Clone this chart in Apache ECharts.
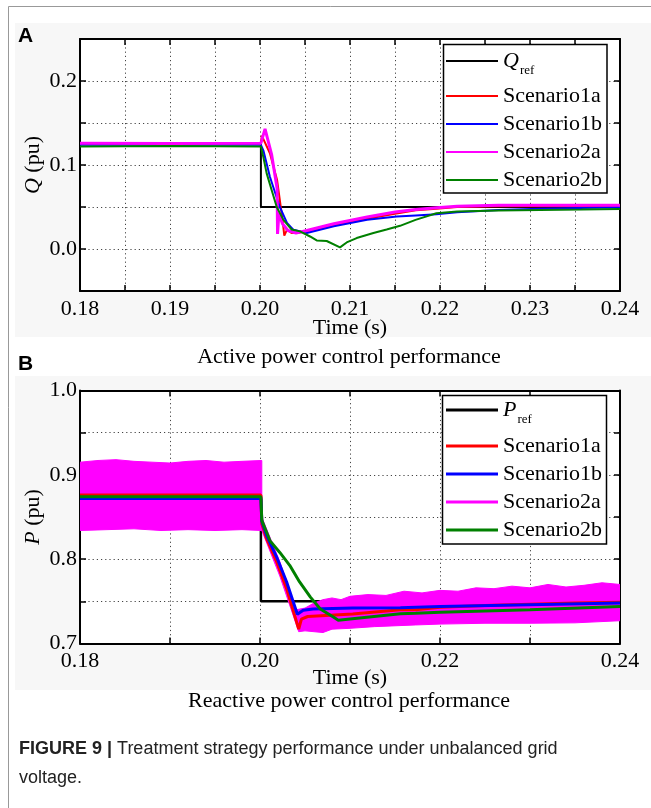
<!DOCTYPE html>
<html><head><meta charset="utf-8">
<script src="https://cdn.jsdelivr.net/npm/echarts@6/dist/echarts.min.js"></script>
<style>html,body{margin:0;padding:0;background:#fff;}#c{width:651px;height:808px;}</style>
</head><body><div id="c"></div>
<script>
// ---------- tick labels ----------
const xTickLabelsA = ['0.18','0.19','0.20','0.21','0.22','0.23','0.24'];
const yTickLabelsA = ['0.0','0.1','0.2'];
const xTickLabelsB = ['0.18','0.20','0.22','0.24'];
const yTickLabelsB = ['0.7','0.8','0.9','1.0'];

// ---------- Panel A : Q (pu) vs time (s) ----------
const qRef = [[0.18,0.125],[0.2001,0.125],[0.2001,0.05],[0.24,0.05]];
const q1a = [[0.18,0.125],[0.19,0.1252],[0.2001,0.125],[0.2002,0.135],[0.2011,0.114],[0.2019,0.082],
  [0.2025,0.035],[0.2027,0.016],[0.2030,0.023],[0.2035,0.019],[0.2041,0.019],[0.2052,0.021],
  [0.2082,0.028],[0.2119,0.036],[0.215,0.042],[0.2173,0.046],[0.2196,0.048],[0.2219,0.050],
  [0.2265,0.051],[0.231,0.051],[0.2357,0.051],[0.24,0.051]];
const q1b = [[0.18,0.124],[0.19,0.1242],[0.2001,0.124],[0.20037,0.1175],[0.2011,0.086],[0.2022,0.050],
  [0.2030,0.031],[0.2037,0.023],[0.2052,0.019],[0.2082,0.027],[0.2119,0.0347],[0.2152,0.0386],
  [0.2173,0.040],[0.2196,0.0414],[0.2219,0.0438],[0.2265,0.0465],[0.2311,0.048],[0.24,0.0497]];
const q2a = [[0.18,0.126],[0.19,0.1255],[0.2001,0.126],[0.20056,0.143],[0.2013,0.112],[0.2019,0.072],
  [0.20195,0.018],[0.2021,0.042],[0.2025,0.030],[0.2031,0.022],[0.2040,0.019],[0.2052,0.022],
  [0.2082,0.030],[0.2119,0.038],[0.215,0.044],[0.2173,0.047],[0.2196,0.049],[0.2219,0.051],
  [0.2265,0.052],[0.231,0.052],[0.2357,0.052],[0.24,0.052]];
const q2b = [[0.18,0.122],[0.19,0.1225],[0.2001,0.122],[0.20037,0.1096],[0.20074,0.090],[0.2013,0.070],
  [0.20186,0.050],[0.2026,0.0347],[0.20352,0.0232],[0.20444,0.021],[0.20556,0.0149],[0.2063,0.0102],
  [0.20741,0.0095],[0.20889,0.0019],[0.20963,0.0078],[0.21074,0.013],[0.2126,0.019],[0.21407,0.0232],
  [0.21556,0.0276],[0.21728,0.0347],[0.2196,0.0426],[0.2219,0.0446],[0.2242,0.0453],[0.2265,0.0457],
  [0.2311,0.0465],[0.2357,0.047],[0.24,0.0477]];

// ---------- Panel B : P (pu) vs time (s) ----------
const pRef = [[0.18,0.875],[0.2001,0.875],[0.2001,0.75],[0.24,0.75]];
const p1a = [[0.18,0.876],[0.2001,0.876],[0.2002,0.842],[0.20074,0.824],[0.20185,0.797],[0.20296,0.765],
  [0.2043,0.717],[0.2046,0.729],[0.2053,0.732],[0.2103,0.735],[0.2156,0.740],[0.2173,0.740],
  [0.22,0.743],[0.225,0.745],[0.23,0.7465],[0.235,0.748],[0.24,0.749]];
const p1b = [[0.18,0.872],[0.2001,0.872],[0.2002,0.845],[0.20074,0.828],[0.20185,0.8025],[0.20296,0.773],
  [0.20415,0.7346],[0.2048,0.7393],[0.2059,0.741],[0.2103,0.742],[0.2156,0.7425],[0.22,0.744],
  [0.23,0.746],[0.24,0.748]];
const p2aUpper = [[0.18,0.915],[0.182,0.917],[0.184,0.918],[0.186,0.916],[0.188,0.915],[0.19,0.914],
  [0.192,0.916],[0.194,0.917],[0.196,0.915],[0.198,0.916],[0.2002,0.917],[0.2002,0.850],
  [0.2022,0.797],[0.2040,0.740],[0.2050,0.742],[0.206,0.748],[0.207,0.752],[0.208,0.754],
  [0.209,0.752],[0.21,0.756],[0.212,0.758],[0.214,0.757],[0.216,0.762],[0.218,0.760],[0.22,0.763],
  [0.222,0.762],[0.224,0.766],[0.226,0.765],[0.228,0.768],[0.23,0.766],[0.232,0.770],[0.234,0.767],
  [0.236,0.769],[0.238,0.772],[0.24,0.770]];
const p2aLower = [[0.18,0.834],[0.183,0.835],[0.186,0.836],[0.189,0.834],[0.192,0.835],[0.195,0.834],
  [0.198,0.835],[0.2002,0.834],[0.2022,0.780],[0.2043,0.714],[0.205,0.715],[0.206,0.714],
  [0.207,0.713],[0.208,0.717],[0.21,0.718],[0.2127,0.720],[0.2173,0.722],[0.22,0.723],
  [0.225,0.724],[0.23,0.724],[0.235,0.7245],[0.24,0.727]];
const p2b = [[0.18,0.874],[0.2001,0.874],[0.2002,0.846],[0.2011,0.822],[0.2022,0.808],[0.2033,0.7927],
  [0.2044,0.773],[0.2056,0.755],[0.2067,0.741],[0.20815,0.7314],[0.2087,0.7275],[0.21,0.729],
  [0.2156,0.7354],[0.2173,0.736],[0.22,0.737],[0.23,0.740],[0.24,0.744]];

// ---------- styling ----------
const SERIF = "'Liberation Serif','Times New Roman',serif";
const SANS = "'Liberation Sans',Arial,sans-serif";
const C = {ref:'#000000', s1a:'#ff0000', s1b:'#0000ff', s2a:'#ff00ff', s2b:'#008000'};

const chart = echarts.init(document.getElementById('c'), null, {renderer:'canvas'});

function fmtX(labels, step) {
  return v => { const k = Math.round(v*1000); const t = (k/1000).toFixed(2); return (k % step === 0 && labels.includes(t)) ? t : ''; };
}
function fmtY(labels) {
  return v => { const k = Math.round(v*100); const t = (k/100).toFixed(1); return (k % 10 === 0 && labels.includes(t)) ? t : ''; };
}
const grid = (top,h) => ({left:80, top:top, width:540, height:h, show:true, backgroundColor:'#fff', borderWidth:0});
const axLine = {show:true, onZero:false, lineStyle:{color:'#000', width:2}};
const tick = {show:true, inside:true, length:6, lineStyle:{color:'#000', width:1.5}};
const split = {show:true, lineStyle:{color:'#444', width:1, type:[1.2,3]}};
const lbl = (f, m) => ({show:true, formatter:f, margin:m, color:'#000', fontFamily:SERIF, fontSize:22});

function xAx(gi, min, max, interval, labels, step, pos, gap) {
  const bottom = pos === 'bottom';
  return {type:'value', gridIndex:gi, position:pos, min:min, max:max, interval:interval,
    axisLine:axLine, axisTick:tick, splitLine: bottom ? split : {show:false},
    axisLabel: bottom ? lbl(fmtX(labels, step), 7) : {show:false},
    name: bottom ? 'Time (s)' : '', nameLocation:'middle', nameGap:gap, nameMoveOverlap:false,
    nameTextStyle:{color:'#000', fontFamily:SERIF, fontSize:22}};
}
function yAx(gi, min, max, labels, pos, nm) {
  const left = pos === 'left';
  return {type:'value', gridIndex:gi, position:pos, min:min, max:max, interval:0.05,
    axisLine:axLine, axisTick:tick, splitLine: left ? split : {show:false},
    axisLabel: left ? lbl(fmtY(labels), 3) : {show:false},
    name: left ? '{i|' + nm + '} (pu)' : '', nameLocation:'middle', nameGap:36, nameMoveOverlap:false,
    nameTextStyle:{color:'#000', fontFamily:SERIF, fontSize:22,
      rich:{i:{fontStyle:'italic', fontFamily:SERIF, fontSize:22, color:'#000'}}}};
}
function line(name, data, xi, yi, color, w, z, zl) {
  return {type:'line', name:name, data:data, xAxisIndex:xi, yAxisIndex:yi, color:color, z:z, zlevel:zl || 0,
    showSymbol:false, symbol:'none', lineStyle:{color:color, width:w}, emphasis:{disabled:true},
    animation:false, clip:true};
}
function band(name, upper, lower, xi, yi, color, z, zl) {
  return {type:'custom', name:name, xAxisIndex:xi, yAxisIndex:yi, data:upper, color:color, z:z, zlevel:zl,
    itemStyle:{color:color}, encode:{x:0, y:1}, clip:true, animation:false,
    renderItem: (params, api) => {
      if (params.dataIndex !== 0) return null;
      const pts = upper.map(d => api.coord(d)).concat(lower.slice().reverse().map(d => api.coord(d)));
      return {type:'polygon', shape:{points:pts}, style:{fill:color, stroke:color, lineWidth:1}};
    }};
}
const legTxt = {color:'#000', fontFamily:SERIF, fontSize:22, lineHeight:28};
function refLegend(name, sym, top, h) {
  return {data:[name], orient:'vertical', left:446, top:top, itemWidth:52, itemHeight:h, itemGap:0,
    padding:0, icon:'rect', selectedMode:false, z:30, formatter:() => '{q|' + sym + '}{s|ref}',
    textStyle:{color:'#000', fontFamily:SERIF, fontSize:22,
      rich:{q:{fontStyle:'italic', fontFamily:SERIF, fontSize:22, color:'#000'},
            s:{fontFamily:SERIF, fontSize:13, color:'#000', padding:[20,0,0,1]}}}};
}
function scnLegend(top, h) {
  return {data:['Scenario1a','Scenario1b','Scenario2a','Scenario2b'], orient:'vertical', left:446, top:top,
    itemWidth:52, itemHeight:h, itemGap:0, padding:0, icon:'rect', selectedMode:false, z:30, textStyle:legTxt};
}

const option = {
  animation:false,
  backgroundColor:'#fff',
  grid:[grid(39,252), grid(390.5,253)],
  xAxis:[xAx(0,0.18,0.24,0.005,xTickLabelsA,10,'bottom',26), xAx(0,0.18,0.24,0.005,xTickLabelsA,10,'top',26),
         xAx(1,0.18,0.24,0.01,xTickLabelsB,20,'bottom',24), xAx(1,0.18,0.24,0.01,xTickLabelsB,20,'top',24)],
  yAxis:[yAx(0,-0.05,0.25,yTickLabelsA,'left','Q'), yAx(0,-0.05,0.25,yTickLabelsA,'right','Q'),
         yAx(1,0.7,1.0,yTickLabelsB,'left','P'), yAx(1,0.7,1.0,yTickLabelsB,'right','P')],
  legend:[refLegend('Qref','Q',50,2), scnLegend(82,2), refLegend('Pref','P',399,3), scnLegend(432,3)],
  series:[
    line('Qref', qRef, 0, 0, C.ref, 2, 2),
    line('Scenario1a', q1a, 0, 0, C.s1a, 2, 3),
    line('Scenario1b', q1b, 0, 0, C.s1b, 2, 3),
    line('Scenario2a', q2a, 0, 0, C.s2a, 3, 3),
    line('Scenario2b', q2b, 0, 0, C.s2b, 2, 3),
    line('Pref', pRef, 2, 2, C.ref, 2.5, 2, 0),
    band('Scenario2a', p2aUpper, p2aLower, 2, 2, C.s2a, 2, 1),
    line('Scenario1a', p1a, 2, 2, C.s1a, 3, 4, 1),
    line('Scenario1b', p1b, 2, 2, C.s1b, 3, 4, 1),
    line('Scenario2b', p2b, 2, 2, C.s2b, 3, 4, 1)
  ],
  graphic:{elements:[
    {type:'rect', z:-100, silent:true, shape:{x:15, y:23, width:640, height:314}, style:{fill:'#f7f7f7'}},
    {type:'rect', z:-100, silent:true, shape:{x:15, y:376, width:640, height:314}, style:{fill:'#f7f7f7'}},
    {type:'rect', z:-99, silent:true, shape:{x:8.5, y:6.5, width:700, height:900}, style:{fill:'none', stroke:'#999', lineWidth:1}},
    {type:'rect', z:20, silent:true, shape:{x:443.5, y:44.5, width:163.5, height:148.5}, style:{fill:'#fff', stroke:'#000', lineWidth:1.5}},
    {type:'rect', z:20, silent:true, shape:{x:442.5, y:395.5, width:164, height:148.5}, style:{fill:'#fff', stroke:'#000', lineWidth:1.5}},
    {type:'text', z:20, silent:true, x:18, y:36, style:{text:'A', font:'bold 21px ' + SANS, fill:'#000', textVerticalAlign:'middle'}},
    {type:'text', z:20, silent:true, x:18, y:364, style:{text:'B', font:'bold 21px ' + SANS, fill:'#000', textVerticalAlign:'middle'}},
    {type:'text', z:20, silent:true, x:349, y:357, style:{text:'Active power control performance', font:'22px ' + SERIF, fill:'#000', textAlign:'center', textVerticalAlign:'middle'}},
    {type:'text', z:20, silent:true, x:349, y:701, style:{text:'Reactive power control performance', font:'22px ' + SERIF, fill:'#000', textAlign:'center', textVerticalAlign:'middle'}},
    {type:'text', z:20, silent:true, x:19, y:749, style:{text:'{b|FIGURE 9 |} Treatment strategy performance under unbalanced grid', font:'18px ' + SANS, fill:'#222', textVerticalAlign:'middle',
       rich:{b:{fontWeight:'bold', fontSize:18, fontFamily:SANS, fill:'#222'}}}},
    {type:'text', z:20, silent:true, x:19, y:778, style:{text:'voltage.', font:'18px ' + SANS, fill:'#222', textVerticalAlign:'middle'}}
  ]}
};
chart.setOption(option);
</script></body></html>
